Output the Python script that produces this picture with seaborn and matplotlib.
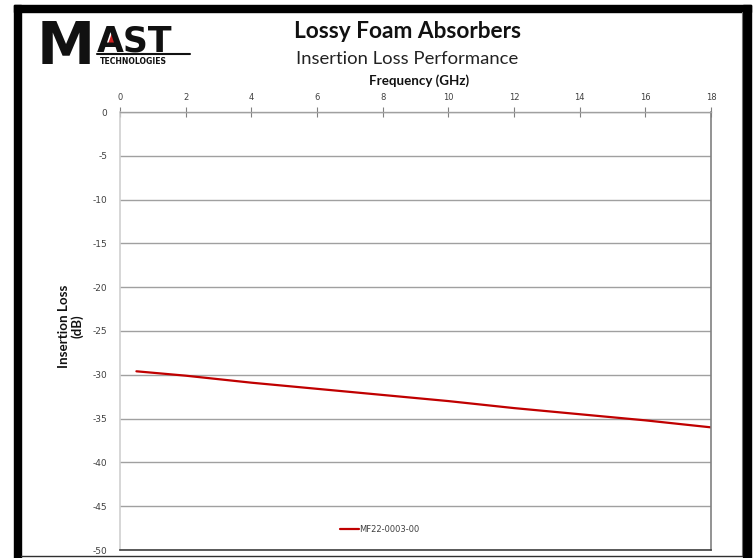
import numpy as np
import pandas as pd
import matplotlib
matplotlib.use('Agg')
import matplotlib.pyplot as plt
from matplotlib.patches import Rectangle, Polygon
from matplotlib.lines import Line2D
import seaborn as sns

# Insertion loss readings for MF22-0003-00
freq_ghz = [0.5, 2, 4, 6, 8, 10, 12, 14, 16, 18]
loss_db = [-29.6, -30.1, -30.9, -31.6, -32.3, -33.0, -33.8, -34.5, -35.2, -36.0]
series_name = 'MF22-0003-00'

x_ticks = list(range(0, 19, 2))
y_ticks = list(range(0, -51, -5))

W, H = 756, 558


def fx(px):
    return px / W


def fy(py):
    return 1 - py / H


sns.set_theme(style='white')
plt.rcParams['font.family'] = ['DejaVu Sans']
plt.rcParams['axes.unicode_minus'] = False

df = pd.DataFrame({'freq': freq_ghz, 'loss': loss_db, 'part': series_name})

fig = plt.figure(figsize=(W / 100, H / 100), dpi=100)
ax = fig.add_axes([fx(120), fy(550), fx(711) - fx(120), fy(112) - fy(550)])

sns.lineplot(data=df, x='freq', y='loss', hue='part', palette=['#c00000'],
             linewidth=1.6, ax=ax, legend=False)

ax.set_xlim(0, 18)
ax.set_ylim(-50, 0)
ax.set_xticks(x_ticks)
ax.set_yticks(y_ticks)
ax.xaxis.tick_top()
ax.set_xlabel('')
ax.set_ylabel('')
ax.tick_params(axis='x', direction='inout', length=7, width=0.8, color='#808080',
               labelsize=6, labelcolor='#404040', pad=4)
ax.tick_params(axis='y', direction='out', length=6, width=0.8, color='#808080',
               labelsize=6.5, labelcolor='#404040', pad=3)
ax.grid(axis='y', color='#a0a0a0', linewidth=1.0)
ax.set_axisbelow(True)

ax.spines['left'].set_color('#d0d0d0')
ax.spines['left'].set_linewidth(1.2)
ax.spines['right'].set_color('#808080')
ax.spines['right'].set_linewidth(1.2)
ax.spines['top'].set_color('#a0a0a0')
ax.spines['top'].set_linewidth(1.0)
ax.spines['bottom'].set_color('#404040')
ax.spines['bottom'].set_linewidth(1.2)

# legend
handle = Line2D([0], [0], color='#c00000', linewidth=1.6)
ax.legend([handle], [series_name], loc='center', bbox_to_anchor=(0.44, 0.047),
          frameon=False, fontsize=6, handlelength=2.2, handletextpad=0.1,
          labelcolor='#404040')

# titles
fig.text(fx(407), fy(31), 'Lossy Foam Absorbers', ha='center', va='center',
         fontsize=16.3, fontweight='bold', family='Lato', color='#111111')
fig.text(fx(407), fy(59), 'Insertion Loss Performance', ha='center', va='center',
         fontsize=13.3, family='Lato', color='#222222')
fig.text(fx(419), fy(81), 'Frequency (GHz)', ha='center', va='center',
         fontsize=9.6, fontweight='bold', family='Lato', color='#111111')
fig.text(fx(71), fy(326), 'Insertion Loss\n(dB)', ha='center', va='center',
         rotation=90, fontsize=9.6, fontweight='bold', family='Lato',
         color='#111111', linespacing=1.1)

# logo
fig.text(fx(37), fy(64), 'M', ha='left', va='baseline', fontsize=42,
         family='DejaVu Sans', fontweight='bold', color='#111111')
fig.text(fx(97), fy(51), 'AST', ha='left', va='baseline', fontsize=25,
         family='DejaVu Sans', fontweight='bold', color='#111111')
fig.add_artist(Line2D([fx(97), fx(190)], [fy(54), fy(54)], color='#111111',
                      linewidth=1.5, transform=fig.transFigure))
fig.text(fx(100), fy(61.5), 'TECHNOLOGIES', ha='left', va='center', fontsize=5.6,
         fontweight='bold', color='#111111')
fig.add_artist(Polygon([[fx(113), fy(30)], [fx(108), fy(44)], [fx(118), fy(44)]],
                       closed=True, facecolor='#d02020', edgecolor='none',
                       transform=fig.transFigure))

# black frame
frame = '#000000'
fig.add_artist(Rectangle((fx(14), fy(12)), fx(751) - fx(14), fy(5) - fy(12),
                         color=frame, transform=fig.transFigure))
fig.add_artist(Rectangle((fx(14), fy(558)), fx(21) - fx(14), fy(5) - fy(558),
                         color=frame, transform=fig.transFigure))
fig.add_artist(Rectangle((fx(743), fy(558)), fx(751) - fx(743), fy(5) - fy(558),
                         color=frame, transform=fig.transFigure))
fig.add_artist(Line2D([fx(742), fx(742)], [fy(12), fy(556)], color='#707070',
                      linewidth=0.8, transform=fig.transFigure))
fig.add_artist(Line2D([fx(21), fx(742)], [fy(556), fy(556)], color='#303030',
                      linewidth=1.0, transform=fig.transFigure))

fig.savefig('out.png', dpi=100)
